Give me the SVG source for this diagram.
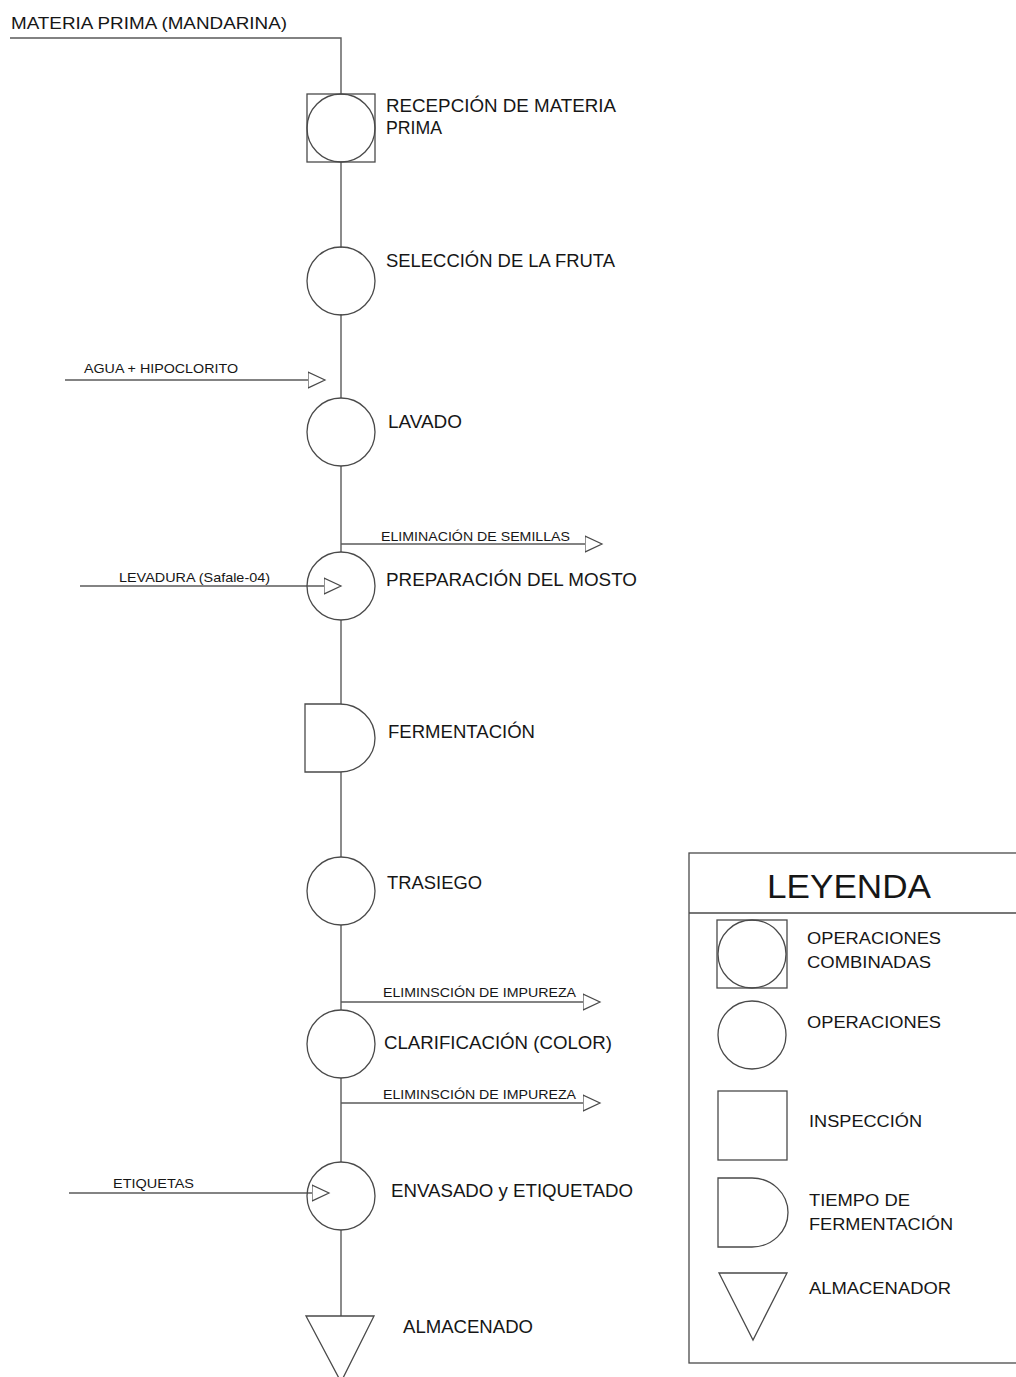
<svg xmlns="http://www.w3.org/2000/svg" width="1016" height="1377" viewBox="0 0 1016 1377">
<defs>
<style>
.s{fill:none;stroke:#4a4a4a;stroke-width:1.3}
.w{fill:#fff;stroke:#4a4a4a;stroke-width:1.3}
.c{fill:none;stroke:#5a5a5a;stroke-width:1.4}
text{font-family:"Liberation Sans",Arial,sans-serif;fill:#161616}
.lg{font-size:18px}
.sm{font-size:13px}
.lt{font-size:16px}
</style>
<marker id="arr" viewBox="0 0 19 18" refX="0.5" refY="9" markerWidth="19" markerHeight="18" markerUnits="userSpaceOnUse" orient="auto">
<path d="M0.5,1 L17.5,9 L0.5,17 Z" fill="#fff" stroke="#4a4a4a" stroke-width="1.2"/>
</marker>
</defs>
<rect width="1016" height="1377" fill="#fff"/>

<text x="11" y="29" style="font-size:17px" textLength="276" lengthAdjust="spacingAndGlyphs">MATERIA PRIMA (MANDARINA)</text>

<g id="connectors">
<polyline class="c" points="10,38 341,38 341,94"/>
<line class="c" x1="341" y1="162" x2="341" y2="248"/>
<line class="c" x1="341" y1="314" x2="341" y2="398"/>
<line class="c" x1="341" y1="466" x2="341" y2="552"/>
<line class="c" x1="341" y1="620" x2="341" y2="704"/>
<line class="c" x1="341" y1="772" x2="341" y2="857"/>
<line class="c" x1="341" y1="925" x2="341" y2="1010"/>
<line class="c" x1="341" y1="1078" x2="341" y2="1162"/>
<line class="c" x1="341" y1="1230" x2="341" y2="1316"/>
<g id="agua">
<line class="c" x1="65" y1="380" x2="308" y2="380" marker-end="url(#arr)"/>
<text class="sm" x="84" y="373" textLength="154" lengthAdjust="spacingAndGlyphs">AGUA + HIPOCLORITO</text>
</g>
<g id="semillas">
<line class="c" x1="341" y1="544" x2="585" y2="544" marker-end="url(#arr)"/>
<text class="sm" x="381" y="541" textLength="189" lengthAdjust="spacingAndGlyphs">ELIMINACIÓN DE SEMILLAS</text>
</g>
<g id="levadura">
<line class="c" x1="80" y1="586" x2="324" y2="586" marker-end="url(#arr)"/>
<text class="sm" x="119" y="582" textLength="151" lengthAdjust="spacingAndGlyphs">LEVADURA (Safale-04)</text>
</g>
<g id="impureza1">
<line class="c" x1="341" y1="1002" x2="583" y2="1002" marker-end="url(#arr)"/>
<text class="sm" x="383" y="997" textLength="193" lengthAdjust="spacingAndGlyphs">ELIMINSCIÓN DE IMPUREZA</text>
</g>
<g id="impureza2">
<line class="c" x1="341" y1="1103" x2="583" y2="1103" marker-end="url(#arr)"/>
<text class="sm" x="383" y="1099" textLength="193" lengthAdjust="spacingAndGlyphs">ELIMINSCIÓN DE IMPUREZA</text>
</g>
<g id="etiquetas">
<line class="c" x1="69" y1="1193" x2="312" y2="1193" marker-end="url(#arr)"/>
<text class="sm" x="113" y="1188" textLength="81" lengthAdjust="spacingAndGlyphs">ETIQUETAS</text>
</g>
</g>

<g id="n-recepcion">
<rect class="s" x="307" y="94" width="68" height="68"/>
<ellipse class="s" cx="341" cy="128" rx="34" ry="34"/>
<text class="lg" x="386" y="112" textLength="230" lengthAdjust="spacingAndGlyphs">RECEPCIÓN DE MATERIA</text>
<text class="lg" x="386" y="134" textLength="56" lengthAdjust="spacingAndGlyphs">PRIMA</text>
</g>
<g id="n-seleccion">
<circle class="s" cx="341" cy="281" r="34"/>
<text class="lg" x="386" y="267" textLength="229" lengthAdjust="spacingAndGlyphs">SELECCIÓN DE LA FRUTA</text>
</g>
<g id="n-lavado">
<circle class="s" cx="341" cy="432" r="34"/>
<text class="lg" x="388" y="428" textLength="74" lengthAdjust="spacingAndGlyphs">LAVADO</text>
</g>
<g id="n-preparacion">
<circle class="s" cx="341" cy="586" r="34"/>
<text class="lg" x="386" y="586" textLength="251" lengthAdjust="spacingAndGlyphs">PREPARACIÓN DEL MOSTO</text>
</g>
<g id="n-fermentacion">
<path class="s" d="M305,704 H340 A35,34 0 0 1 340,772 H305 Z"/>
<text class="lg" x="388" y="738" textLength="147" lengthAdjust="spacingAndGlyphs">FERMENTACIÓN</text>
</g>
<g id="n-trasiego">
<circle class="s" cx="341" cy="891" r="34"/>
<text class="lg" x="387" y="889" textLength="95" lengthAdjust="spacingAndGlyphs">TRASIEGO</text>
</g>
<g id="n-clarificacion">
<circle class="s" cx="341" cy="1044" r="34"/>
<text class="lg" x="384" y="1049" textLength="228" lengthAdjust="spacingAndGlyphs">CLARIFICACIÓN (COLOR)</text>
</g>
<g id="n-envasado">
<circle class="s" cx="341" cy="1196" r="34"/>
<text class="lg" x="391" y="1197" textLength="242" lengthAdjust="spacingAndGlyphs">ENVASADO y ETIQUETADO</text>
</g>
<g id="n-almacenado">
<polygon class="s" points="306,1316 374,1316 341,1382"/>
<text class="lg" x="403" y="1333" textLength="130" lengthAdjust="spacingAndGlyphs">ALMACENADO</text>
</g>

<g id="leyenda">
<rect class="s" x="689" y="853" width="340" height="510"/>
<line class="s" x1="689" y1="913" x2="1016" y2="913"/>
<text x="767" y="898" style="font-size:33px" textLength="164" lengthAdjust="spacingAndGlyphs">LEYENDA</text>
<rect class="s" x="717" y="920" width="70" height="68"/>
<circle class="s" cx="752" cy="954" r="34"/>
<text class="lt" x="807" y="944" textLength="134" lengthAdjust="spacingAndGlyphs">OPERACIONES</text>
<text class="lt" x="807" y="968" textLength="124" lengthAdjust="spacingAndGlyphs">COMBINADAS</text>
<circle class="s" cx="752" cy="1035" r="34"/>
<text class="lt" x="807" y="1028" textLength="134" lengthAdjust="spacingAndGlyphs">OPERACIONES</text>
<rect class="s" x="718" y="1091" width="69" height="69"/>
<text class="lt" x="809" y="1127" textLength="113" lengthAdjust="spacingAndGlyphs">INSPECCIÓN</text>
<path class="s" d="M718,1178 H752 A36,34.5 0 0 1 752,1247 H718 Z"/>
<text class="lt" x="809" y="1206" textLength="101" lengthAdjust="spacingAndGlyphs">TIEMPO DE</text>
<text class="lt" x="809" y="1230" textLength="144" lengthAdjust="spacingAndGlyphs">FERMENTACIÓN</text>
<polygon class="s" points="719,1273 787,1273 753,1340"/>
<text class="lt" x="809" y="1294" textLength="142" lengthAdjust="spacingAndGlyphs">ALMACENADOR</text>
</g>
</svg>
